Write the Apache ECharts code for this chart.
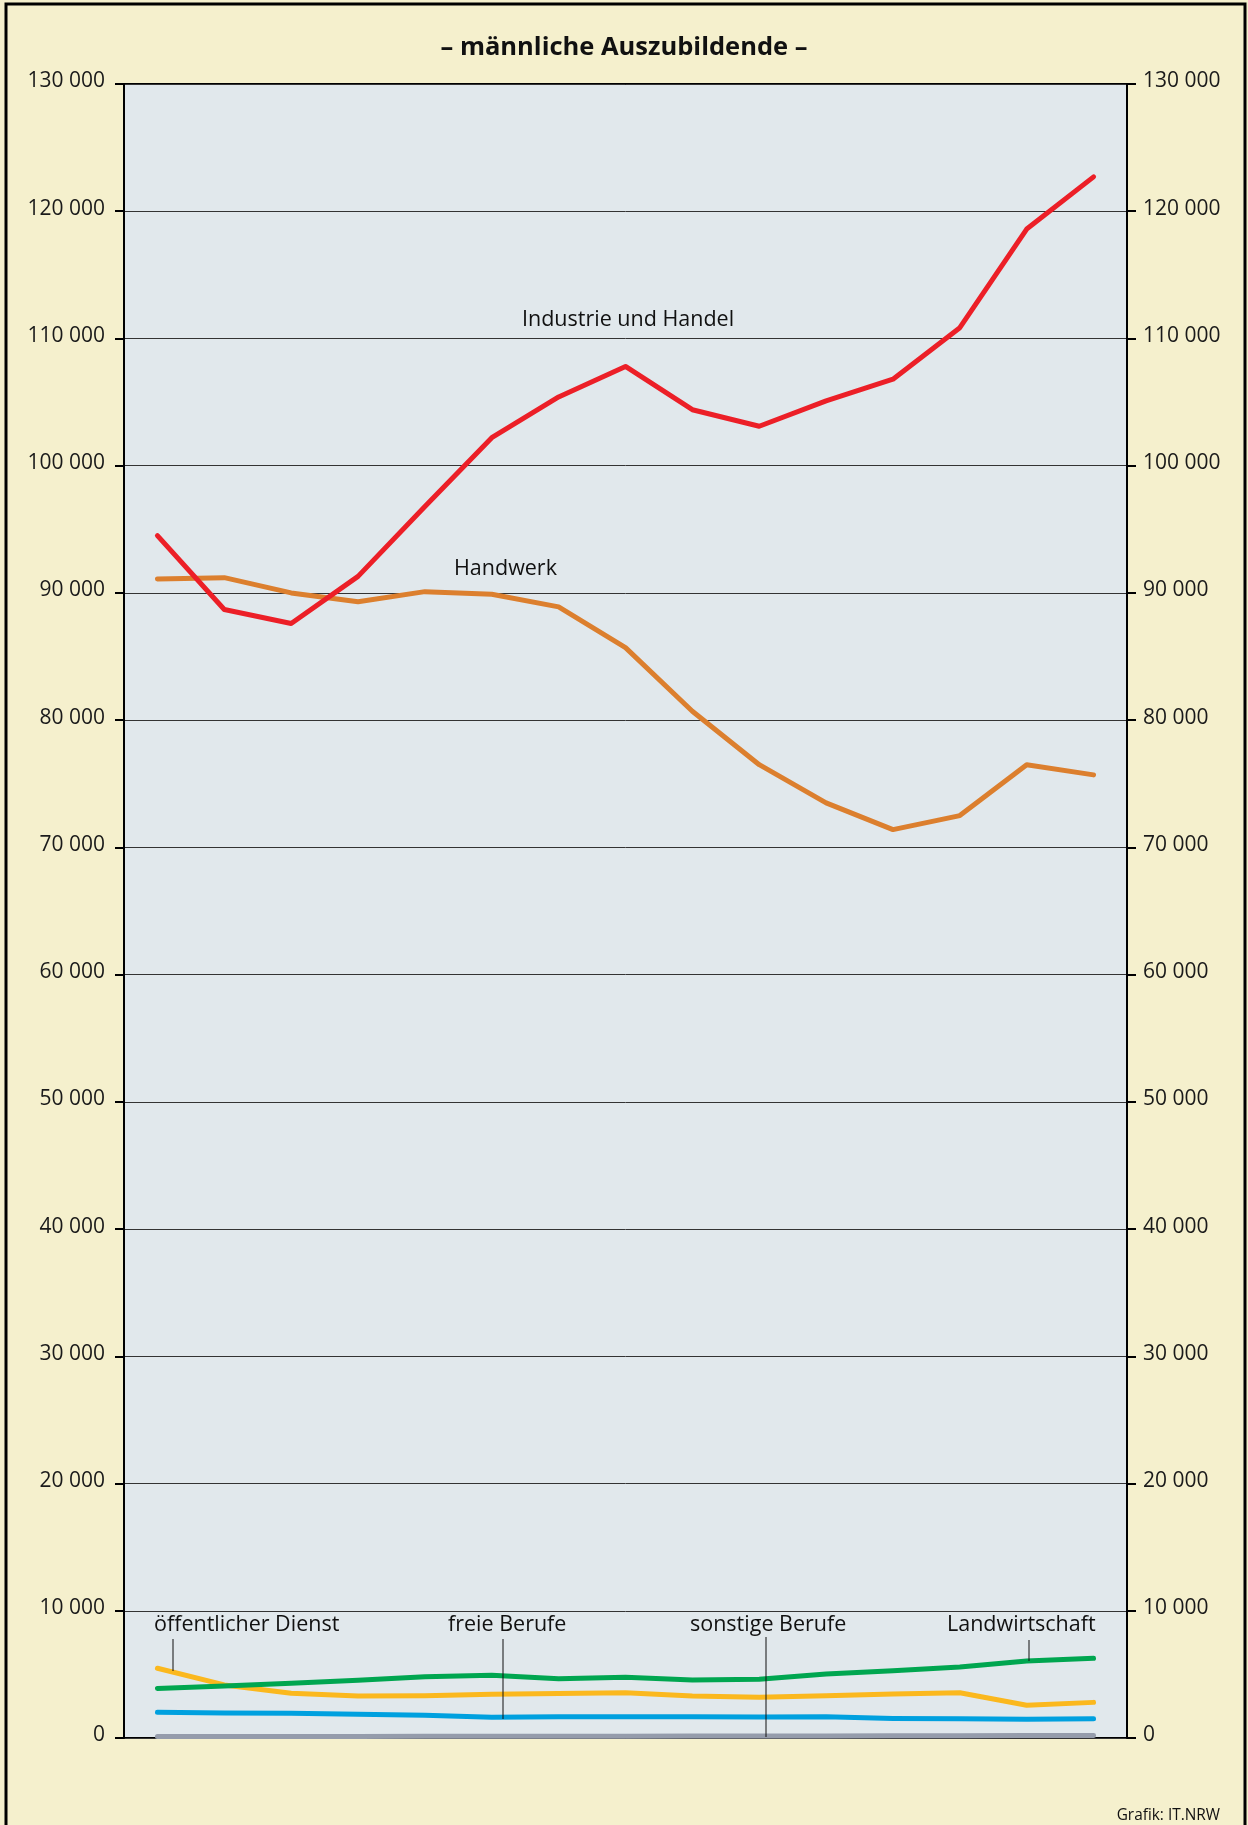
<!DOCTYPE html>
<html>
<head>
<meta charset="utf-8">
<script src="https://cdn.jsdelivr.net/npm/echarts@6/dist/echarts.min.js"></script>
<style>
  html, body { margin: 0; padding: 0; background: #f5f0cd; }
  #chart { width: 1248px; height: 1825px; }
</style>
</head>
<body>
<div id="chart"></div>
<script>
// 15 years, x axis has no labels in the original
const years = ["1", "2", "3", "4", "5", "6", "7", "8", "9", "10", "11", "12", "13", "14", "15"];

const industrie = [94500, 88700, 87600, 91300, 96800, 102200, 105400, 107800, 104400, 103100, 105100, 106800, 110850, 118600, 122700];
const handwerk = [91100, 91200, 90000, 89300, 90100, 89900, 88900, 85700, 80700, 76500, 73500, 71400, 72500, 76500, 75700];
const landwirtschaft = [3900, 4090, 4300, 4530, 4820, 4930, 4660, 4770, 4560, 4610, 5030, 5290, 5580, 6050, 6260];
const oeffentlich = [5480, 4170, 3510, 3300, 3330, 3430, 3490, 3550, 3300, 3200, 3330, 3460, 3560, 2570, 2800];
const freie = [2020, 1960, 1940, 1860, 1780, 1630, 1680, 1680, 1680, 1650, 1670, 1540, 1520, 1470, 1520];
const sonstige = [120, 120, 120, 120, 130, 130, 140, 140, 150, 150, 160, 170, 180, 190, 200];

const FONT = "Open Sans";

const fmt = (v) => (v === 0 ? "0" : String(v).replace(/\B(?=(\d{3})+(?!\d))/g, " "));

const chart = echarts.init(document.getElementById("chart"), null, { width: 1248, height: 1825 });

function yAxisBase(pos) {
  return {
    type: "value",
    position: pos,
    min: 0,
    max: 130000,
    interval: 10000,
    axisLine: { show: true, lineStyle: { color: "#000", width: 2 } },
    axisTick: { show: true, length: 9, lineStyle: { color: "#000", width: 2 } },
    axisLabel: {
      margin: pos === "left" ? 19 : 16,
      color: "#1a1a1a",
      fontFamily: FONT,
      fontSize: 21,
      verticalAlign: "bottom",
      lineHeight: 5,
      formatter: fmt,
    },
    splitLine: { show: pos === "left", lineStyle: { color: "#333", width: 1 } },
  };
}

function line(name, data, color, z) {
  return {
    name,
    type: "line",
    data,
    symbol: "none",
    z,
    lineStyle: { color, width: 5, cap: "round", join: "round" },
  };
}

function label(text, x, y, align) {
  return {
    type: "text",
    x,
    y,
    z: 100,
    style: {
      text,
      fill: "#111",
      font: "21.5px '" + FONT + "'",
      textAlign: align || "left",
      textVerticalAlign: "middle",
    },
  };
}

function leader(x, y1, y2) {
  return {
    type: "line",
    z: 100,
    shape: { x1: x, y1, x2: x, y2 },
    style: { stroke: "#111", lineWidth: 1 },
  };
}

const option = {
  backgroundColor: "#f5f0cd",
  animation: false,
  title: {
    text: "– männliche Auszubildende –",
    left: "center",
    top: 30,
    textStyle: { fontFamily: FONT, fontSize: 25.5, fontWeight: "bold", color: "#111" },
  },
  grid: {
    left: 124,
    right: 121,
    top: 84,
    bottom: 87,
    show: true,
    backgroundColor: "#e1e8ec",
    borderColor: "#000",
    borderWidth: 2,
  },
  xAxis: {
    type: "category",
    data: years,
    boundaryGap: true,
    axisLine: { show: false },
    axisTick: { show: false },
    axisLabel: { show: false },
  },
  yAxis: [yAxisBase("left"), yAxisBase("right")],
  series: [
    line("sonstige Berufe", sonstige, "#959cab", 2),
    line("freie Berufe", freie, "#00a0df", 3),
    line("öffentlicher Dienst", oeffentlich, "#fbb81e", 4),
    line("Landwirtschaft", landwirtschaft, "#00a650", 5),
    line("Handwerk", handwerk, "#dc7f2e", 6),
    line("Industrie und Handel", industrie, "#ec1f27", 7),
  ],
  graphic: [
    {
      type: "rect",
      z: 100,
      shape: { x: 6, y: 4, width: 1239, height: 1830 },
      style: { fill: null, stroke: "#000", lineWidth: 3 },
    },
    label("Industrie und Handel", 522, 320),
    label("Handwerk", 454, 569),
    label("öffentlicher Dienst", 154, 1625),
    label("freie Berufe", 448, 1625),
    label("sonstige Berufe", 690, 1625),
    label("Landwirtschaft", 947, 1625),
    leader(173, 1639, 1671),
    leader(503, 1639, 1719),
    leader(766, 1637, 1737),
    leader(1029, 1640, 1661),
    {
      type: "text",
      x: 1220,
      y: 1816,
      z: 100,
      style: {
        text: "Grafik: IT.NRW",
        fill: "#111",
        font: "15.4px '" + FONT + "'",
        textAlign: "right",
        textVerticalAlign: "middle",
      },
    },
  ],
};

chart.setOption(option);
</script>
</body>
</html>
